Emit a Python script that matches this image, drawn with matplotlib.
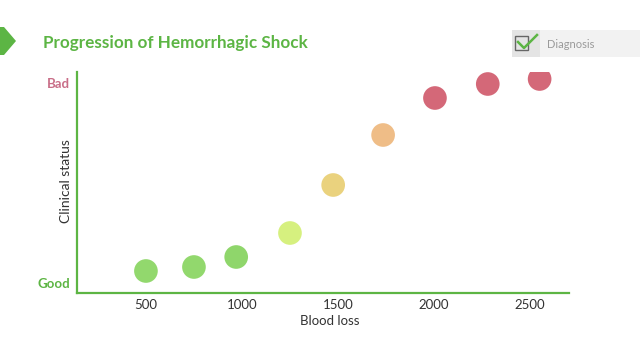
import matplotlib
matplotlib.use("Agg")
import matplotlib.pyplot as plt
from matplotlib.patches import Polygon, Rectangle

blood_loss = [500, 750, 970, 1250, 1475, 1735, 2005, 2280, 2550]
clinical_status = [0.6, 0.8, 1.3, 2.5, 4.9, 7.4, 9.25, 9.95, 10.2]
point_colors = ["#92d86d", "#92d86d", "#8fd66b", "#d6f07f", "#eAd27e",
                "#efbd87", "#d46878", "#d46878", "#d46878"]
x_ticks = [500, 1000, 1500, 2000, 2500]
y_ticks = [0, 10]
y_tick_labels = ["Good", "Bad"]
y_tick_colors = ["#5db544", "#c96e88"]

plt.rcParams['font.family'] = ['Lato', 'DejaVu Sans']

fig = plt.figure(figsize=(6.4, 3.6), dpi=100)
fig.patch.set_facecolor("white")
ax = fig.add_axes([77/640, 1-293/360, (569-77)/640, (293-72)/360])
ax.set_facecolor("none")

ax.scatter(blood_loss, clinical_status, s=290, c=point_colors, linewidths=0, zorder=3)

ax.set_xlim(141, 2703)
ax.set_ylim(-0.5, 10.55)
for side in ["top", "right"]:
    ax.spines[side].set_visible(False)
for side in ["left", "bottom"]:
    ax.spines[side].set_color("#5db544")
    ax.spines[side].set_linewidth(1.6)

ax.set_xticks(x_ticks)
ax.set_xticklabels([str(v) for v in x_ticks], fontsize=9.5, color="#333333")
ax.tick_params(axis="x", length=0, pad=4)
ax.set_yticks(y_ticks)
ax.set_yticklabels(y_tick_labels, fontsize=9.5, fontweight="bold")
for lbl, col in zip(ax.get_yticklabels(), y_tick_colors):
    lbl.set_color(col)
ax.tick_params(axis="y", length=0, pad=5)

ax.set_xlabel("Blood loss", fontsize=9.5, color="#333333")
ax.xaxis.label.set_verticalalignment("center")
ax.xaxis.set_label_coords((330-77)/(569-77), -(321-293)/(293-72))
ax.set_ylabel("Clinical status", fontsize=10, color="#333333")
ax.yaxis.set_label_coords(-(77-66)/(569-77), (293-181)/(293-72))
ax.yaxis.label.set_verticalalignment("center")

# title
fig.text(43/640, 1-43/360, "Progression of Hemorrhagic Shock", fontsize=12.3,
         fontweight="bold", color="#5cb544", ha="left", va="center")

# left arrow decoration
fig.patches.append(Polygon([(0, 1-27/360), (4/640, 1-27/360), (16/640, 1-41/360),
                            (4/640, 1-55/360), (0, 1-55/360)], closed=True,
                           transform=fig.transFigure, facecolor="#5cb544",
                           edgecolor="none"))

# diagnosis box
fig.patches.append(Rectangle((512/640, 1-57/360), 128/640, 27/360,
                             transform=fig.transFigure, facecolor="#f2f2f2",
                             edgecolor="none"))
fig.patches.append(Rectangle((512/640, 1-57/360), 28/640, 27/360,
                             transform=fig.transFigure, facecolor="#e4e4e4",
                             edgecolor="none"))
fig.patches.append(Rectangle((515/640, 1-50/360), 13/640, 14/360,
                             transform=fig.transFigure, facecolor="none",
                             edgecolor="#666666", linewidth=1.0))
fig.lines.append(plt.Line2D([518/640, 524/640, 537/640], [1-42/360, 1-48/360, 1-35/360],
                            transform=fig.transFigure, color="#5cb544", linewidth=1.8))
fig.text(547/640, 1-44/360, "Diagnosis", fontsize=8, color="#9a9a9a",
         ha="left", va="center")

fig.savefig("out.png", dpi=100, facecolor="white")
